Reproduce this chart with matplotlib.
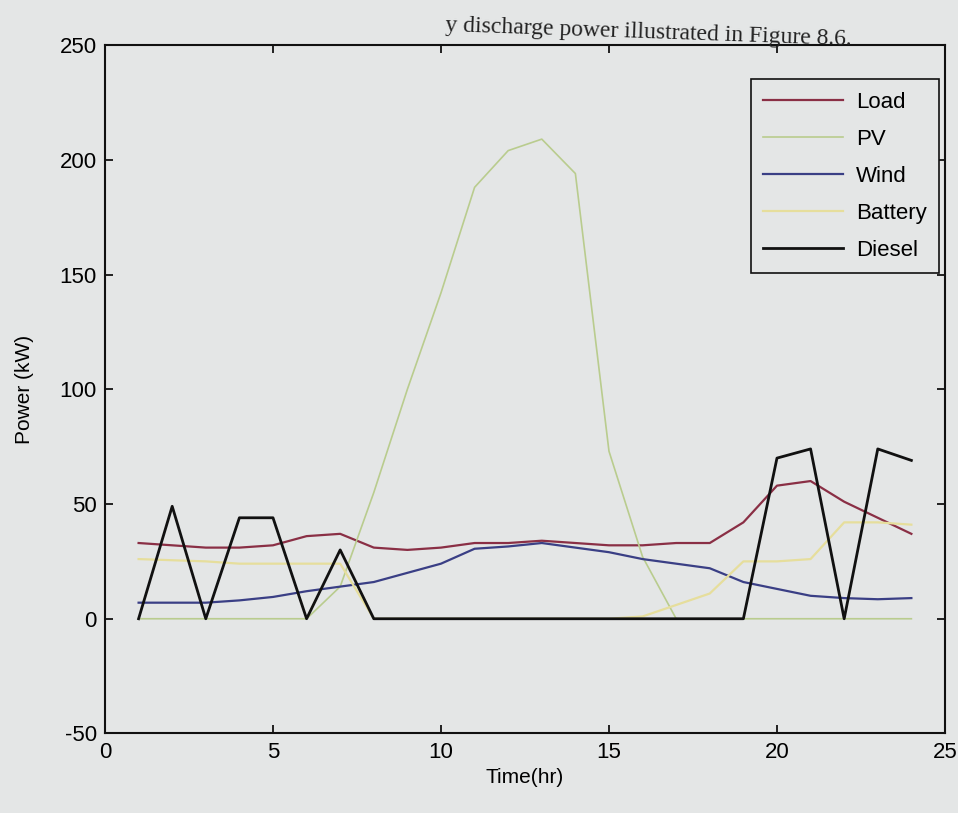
import matplotlib
matplotlib.use("Agg")
import matplotlib.pyplot as plt

# hourly power profile of the hybrid system (kW)
hours = list(range(1, 25))
load = [33, 32, 31, 31, 32, 36, 37, 31, 30, 31, 33, 33,
        34, 33, 32, 32, 33, 33, 42, 58, 60, 51, 44, 37]
pv = [0, 0, 0, 0, 0, 0, 14, 55, 100, 142, 188, 204,
      209, 194, 73, 27, 0, 0, 0, 0, 0, 0, 0, 0]
wind = [7, 7, 7, 8, 9.5, 12, 14, 16, 20, 24, 30.5, 31.5,
        33, 31, 29, 26, 24, 22, 16, 13, 10, 9, 8.5, 9]
battery = [26, 25.5, 25, 24, 24, 24, 24, 0, 0, 0, 0, 0,
           0, 0, 0, 1, 6, 11, 25, 25, 26, 42, 42, 41]
diesel = [0, 49, 0, 44, 44, 0, 30, 0, 0, 0, 0, 0,
          0, 0, 0, 0, 0, 0, 0, 70, 74, 0, 74, 69]

series = {
    "Load": (load, "#8a2f45", 1.6),
    "PV": (pv, "#b9cc8e", 1.2),
    "Wind": (wind, "#3a3f85", 1.6),
    "Battery": (battery, "#e6de9c", 1.6),
    "Diesel": (diesel, "#111111", 2.0),
}

paper = "#e4e6e6"
plt.rcParams["font.family"] = ["Liberation Sans", "DejaVu Sans"]
plt.rcParams["axes.unicode_minus"] = False

fig = plt.figure(figsize=(9.58, 8.13), dpi=100, facecolor=paper)
ax = fig.add_axes([0.1096, 0.0978, 0.8768, 0.8468], facecolor=paper)

for name, (values, color, lw) in series.items():
    ax.plot(hours, values, color=color, linewidth=lw, label=name)

ax.set_xlim(0, 25)
ax.set_ylim(-50, 250)
ax.set_xticks([0, 5, 10, 15, 20, 25])
ax.set_yticks([-50, 0, 50, 100, 150, 200, 250])
ax.tick_params(direction="in", top=True, right=True, length=6, width=1.2,
               labelsize=16, pad=6)
for spine in ax.spines.values():
    spine.set_linewidth(1.5)
    spine.set_color("#111111")

ax.set_xlabel("Time(hr)", fontsize=15, labelpad=4)
ax.set_ylabel("Power (kW)", fontsize=15, labelpad=18)

leg = ax.legend(loc="upper right", bbox_to_anchor=(0.993, 0.95), fontsize=16,
                handlelength=3.6, handletextpad=0.6, labelspacing=0.72,
                borderpad=0.55, borderaxespad=0, fancybox=False, framealpha=1.0)
leg.get_frame().set_edgecolor("#111111")
leg.get_frame().set_facecolor(paper)
leg.get_frame().set_linewidth(1.2)

# caption line of the page above the figure
fig.text(0.465, 0.962, "y discharge power illustrated in Figure 8.6.",
         family=["Liberation Serif", "DejaVu Serif"], fontsize=17,
         rotation=-2, rotation_mode="anchor", ha="left", va="baseline",
         color="#222222")

fig.savefig("out.png", dpi=100, facecolor=paper)
